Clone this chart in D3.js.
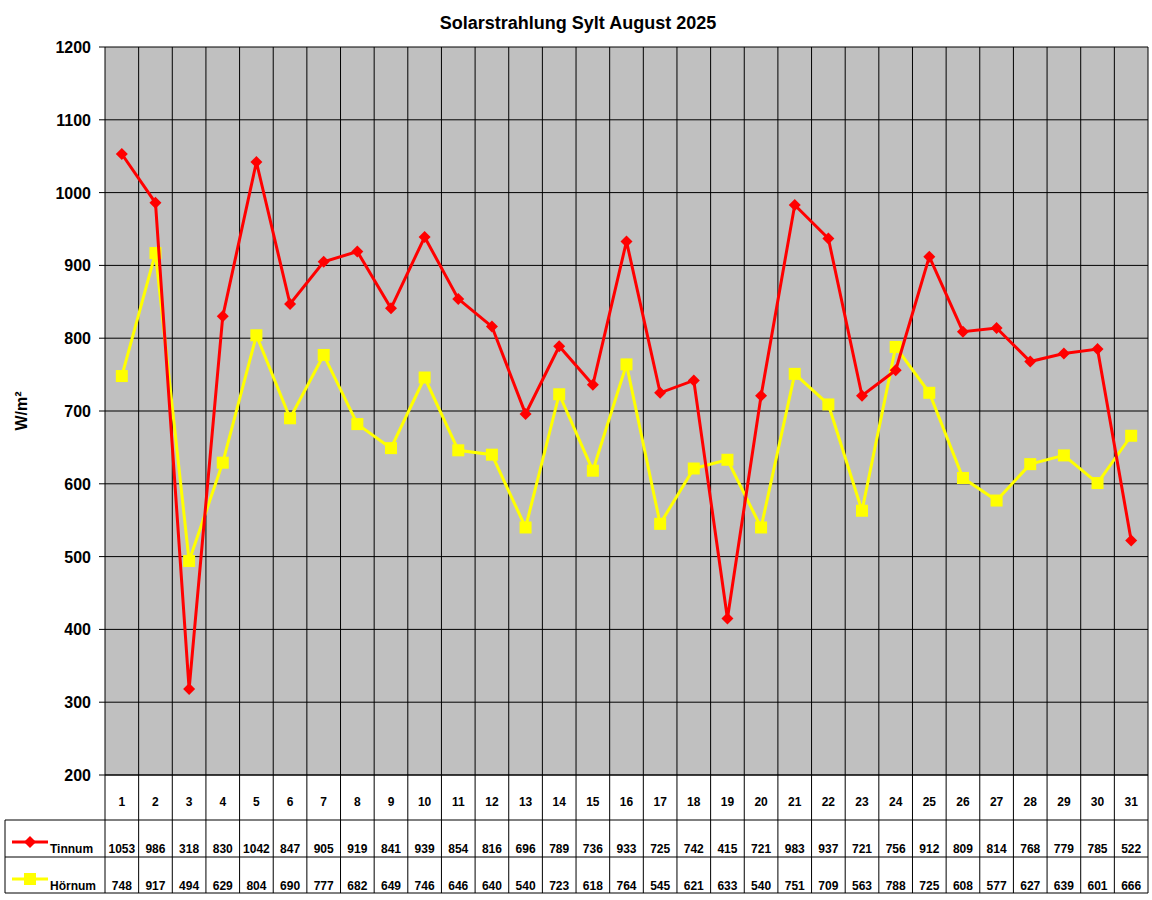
<!DOCTYPE html>
<html><head><meta charset="utf-8">
<script src="https://cdn.jsdelivr.net/npm/d3@7"></script>
<style>body{margin:0;background:#fff}</style>
</head><body>
<div id="chart"></div>
<script>
const days = d3.range(1, 32);
const tinnum = [1053,986,318,830,1042,847,905,919,841,939,854,816,696,789,736,933,725,742,415,721,983,937,721,756,912,809,814,768,779,785,522];
const hoernum = [748,917,494,629,804,690,777,682,649,746,646,640,540,723,618,764,545,621,633,540,751,709,563,788,725,608,577,627,639,601,666];
const yTicks = [200,300,400,500,600,700,800,900,1000,1100,1200];

const width = 1152, height = 900;
const plotLeft = 105, plotRight = 1148, plotTop = 47, plotBottom = 775;
const rowDay = 820, rowT = 857, rowH = 893, tableLeft = 5;

const svg = d3.select("#chart").append("svg")
    .attr("width", width).attr("height", height)
    .style("font-family", "Arial, 'Liberation Sans', sans-serif");

const x = d3.scaleBand().domain(days).range([plotLeft, plotRight]);
const y = d3.scaleLinear().domain([200, 1200]).range([plotBottom, plotTop]);

svg.append("rect").attr("x", plotLeft).attr("y", plotTop)
    .attr("width", plotRight - plotLeft).attr("height", plotBottom - plotTop).attr("fill", "#c0c0c0");

// horizontal grid
svg.selectAll(".hg").data(yTicks).enter().append("line")
    .attr("x1", plotLeft).attr("x2", plotRight)
    .attr("y1", d => y(d)).attr("y2", d => y(d))
    .attr("stroke", "#000").attr("stroke-width", 1);

// vertical lines through plot and table
svg.selectAll(".vg").data(days.concat([32])).enter().append("line")
    .attr("x1", d => d === 32 ? plotRight : x(d)).attr("x2", d => d === 32 ? plotRight : x(d))
    .attr("y1", plotTop).attr("y2", rowH)
    .attr("stroke", "#000").attr("stroke-width", 1);

// table horizontal lines
[[plotLeft, plotBottom], [tableLeft, rowDay], [tableLeft, rowT], [tableLeft, rowH]].forEach(([x0, yy]) => {
    svg.append("line").attr("x1", x0).attr("x2", plotRight).attr("y1", yy).attr("y2", yy)
        .attr("stroke", "#000");
});
svg.append("line").attr("x1", tableLeft).attr("x2", tableLeft).attr("y1", rowDay).attr("y2", rowH).attr("stroke", "#000");

// y tick labels
svg.selectAll(".yl").data(yTicks).enter().append("text")
    .attr("x", plotLeft - 14).attr("y", d => y(d) + 6)
    .attr("text-anchor", "end").attr("font-size", 16).attr("font-weight", "bold")
    .text(d => d);
svg.selectAll(".yt").data(yTicks).enter().append("line")
    .attr("x1", plotLeft - 6).attr("x2", plotLeft).attr("y1", d => y(d)).attr("y2", d => y(d)).attr("stroke", "#000");

svg.append("text").attr("x", width / 2 + 2).attr("y", 29)
    .attr("text-anchor", "middle").attr("font-size", 18).attr("font-weight", "bold")
    .text("Solarstrahlung Sylt August 2025");
svg.append("text").attr("transform", "translate(27,411) rotate(-90)")
    .attr("text-anchor", "middle").attr("font-size", 16).attr("font-weight", "bold").text("W/m²");

const cx = d => x(d) + x.bandwidth() / 2;
const fs = 12;
svg.selectAll(".dl").data(days).enter().append("text")
    .attr("x", cx).attr("y", 806).attr("text-anchor", "middle")
    .attr("font-size", fs).attr("font-weight", "bold").text(d => d);
svg.selectAll(".tv").data(tinnum).enter().append("text")
    .attr("x", (d, i) => cx(days[i])).attr("y", 853).attr("text-anchor", "middle")
    .attr("font-size", fs).attr("font-weight", "bold").text(d => d);
svg.selectAll(".hv").data(hoernum).enter().append("text")
    .attr("x", (d, i) => cx(days[i])).attr("y", 890).attr("text-anchor", "middle")
    .attr("font-size", fs).attr("font-weight", "bold").text(d => d);

const line = d3.line().x((d, i) => cx(days[i])).y(d => y(d));

// Hörnum (yellow)
svg.append("path").datum(hoernum).attr("d", line)
    .attr("fill", "none").attr("stroke", "#ffff00").attr("stroke-width", 3);
svg.selectAll(".hm").data(hoernum).enter().append("rect")
    .attr("x", (d, i) => cx(days[i]) - 6).attr("y", d => y(d) - 6)
    .attr("width", 12).attr("height", 12).attr("fill", "#ffff00");

// Tinnum (red)
svg.append("path").datum(tinnum).attr("d", line)
    .attr("fill", "none").attr("stroke", "#ff0000").attr("stroke-width", 3);
svg.selectAll(".tm").data(tinnum).enter().append("path")
    .attr("transform", (d, i) => `translate(${cx(days[i])},${y(d)})`)
    .attr("d", "M0,-6L6,0L0,6L-6,0Z").attr("fill", "#ff0000");

// legend in table
const legend = [
    { name: "Tinnum", color: "#ff0000", yy: 842, marker: "diamond", ty: 853 },
    { name: "Hörnum", color: "#ffff00", yy: 879, marker: "square", ty: 890 }
];
legend.forEach(l => {
    svg.append("line").attr("x1", 12).attr("x2", 48).attr("y1", l.yy).attr("y2", l.yy)
        .attr("stroke", l.color).attr("stroke-width", 3);
    if (l.marker === "diamond") {
        svg.append("path").attr("transform", `translate(30,${l.yy})`)
            .attr("d", "M0,-6L6,0L0,6L-6,0Z").attr("fill", l.color);
    } else {
        svg.append("rect").attr("x", 24).attr("y", l.yy - 6).attr("width", 12).attr("height", 12).attr("fill", l.color);
    }
    svg.append("text").attr("x", 50).attr("y", l.ty).attr("font-size", fs).attr("font-weight", "bold").text(l.name);
});
</script>
</body></html>
